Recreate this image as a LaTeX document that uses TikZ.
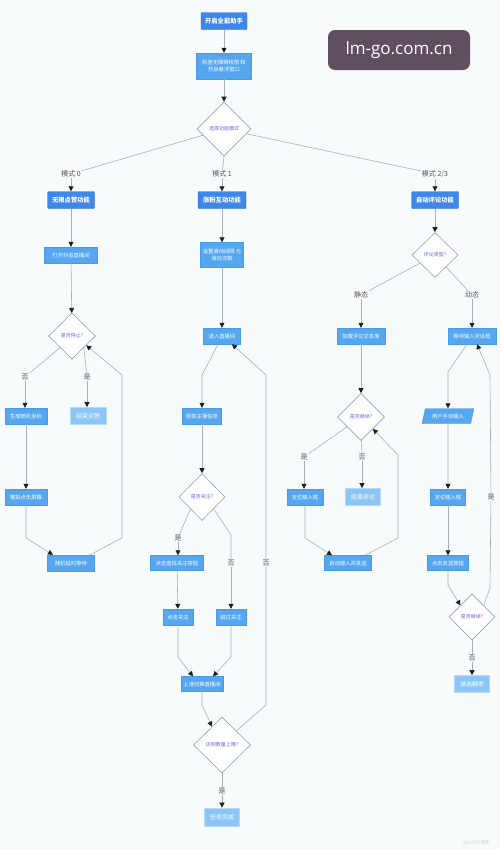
\documentclass[tikz,border=0pt]{standalone}
\usepackage{fontspec}
\setmainfont{Noto Sans CJK SC}
\newfontfamily\wmfont{Open Sans}
\usetikzlibrary{shapes.geometric,arrows.meta,calc}
\definecolor{bgc}{HTML}{F7FBFC}
\definecolor{tblue}{HTML}{3F88EA}
\definecolor{tbord}{HTML}{2F72D6}
\definecolor{pblue}{HTML}{56A7EF}
\definecolor{pbord}{HTML}{4A9AE5}
\definecolor{fblue}{HTML}{8DC6F6}
\definecolor{fbord}{HTML}{B5DAFA}
\definecolor{dbord}{HTML}{8FA6BE}
\definecolor{dtext}{HTML}{6B63D9}
\definecolor{linec}{HTML}{A3B1BF}
\definecolor{tipc}{HTML}{1E1E1E}
\definecolor{labc}{HTML}{555555}
\definecolor{wmc}{HTML}{5F5060}
\tikzset{
 tbox/.style={rectangle, inner sep=0pt, fill=tblue, draw=tbord, line width=0.4pt, text=white, font=\fontsize{6.3}{7}\selectfont\bfseries, minimum height=17pt, rounded corners=1pt},
 pbox/.style={rectangle, inner sep=0pt, fill=pblue, draw=pbord, line width=0.4pt, text=white, font=\fontsize{5.3}{7}\selectfont, minimum height=16pt, align=center},
 fbox/.style={rectangle, inner sep=0pt, fill=fblue, draw=fbord, line width=0.7pt, text=white, font=\fontsize{6}{7}\selectfont, minimum height=17pt},
 pgram/.style={trapezium, trapezium left angle=65, trapezium right angle=115, trapezium stretches=true, inner sep=0pt, fill=pblue, draw=pbord, line width=0.4pt, text=white, font=\fontsize{5.3}{7}\selectfont},
 dec/.style={diamond, aspect=1, inner sep=0pt, draw=dbord, fill=white, line width=0.6pt, text=dtext, font=\fontsize{5}{6}\selectfont},
 lab/.style={fill=bgc, inner sep=1pt, text=labc, font=\fontsize{7}{8}\selectfont},
 link/.style={draw=linec, line width=0.6pt},
 conn/.style={link, -{Triangle[length=5pt,width=5pt,color=tipc]}},
 wmark/.style={fill=wmc, rounded corners=7pt, minimum width=142pt, minimum height=40pt, text=white, font=\wmfont\fontsize{17}{20}\selectfont},
}
\begin{document}
\begin{tikzpicture}[x=1pt,y=-1pt]
\fill[bgc] (0,0) rectangle (500,849);
\useasboundingbox (0,0) rectangle (500,849);

% top
\node[tbox, minimum width=46pt] (start) at (224,21) {开启全能助手};
\node[pbox, minimum width=55pt, minimum height=26pt] (perm) at (224,66) {检查无障碍权限 和\\开启悬浮窗口};
\node[dec, minimum width=54pt, minimum height=54pt] (d1) at (224,129) {选择功能模式};
\node[lab] (lm0) at (71,174) {模式 0};
\node[lab] (lm1) at (222,174) {模式 1};
\node[lab] (lm23) at (435,174) {模式 2/3};
\node[tbox, minimum width=47pt] (m0) at (71,200) {无限点赞功能};
\node[tbox, minimum width=48pt] (m1) at (222,200) {涨粉互动功能};
\node[tbox, minimum width=47pt] (m23) at (435,200) {自动评论功能};

% column 0
\node[pbox, minimum width=53pt] (a1) at (71,255) {打开抖音直播间};
\node[dec, minimum width=47pt, minimum height=46pt] (ad) at (72,336) {是否停止?};
\node[lab] (lno0) at (25,377) {否};
\node[lab] (lyes0) at (87,377) {是};
\node[pbox, minimum width=42pt] (a2) at (26,416) {生成随机坐标};
\node[fbox, minimum width=36pt] (aend) at (88,416) {结束点赞};
\node[pbox, minimum width=42pt] (a3) at (26,497) {模拟点击屏幕};
\node[pbox, minimum width=47pt] (a4) at (71,563) {随机延时等待};

% column 1
\node[pbox, minimum width=43pt, minimum height=25pt] (b1) at (222,255) {设置滑动间隔 与\\滑动次数};
\node[pbox, minimum width=37pt] (b2) at (222,336) {进入直播间};
\node[pbox, minimum width=39pt] (b3) at (202,416) {获取主播信息};
\node[dec, minimum width=46pt, minimum height=47pt] (bd) at (202,497) {是否关注?};
\node[lab] (lyes1) at (178,538) {是};
\node[lab] (lno1) at (231,563) {否};
\node[pbox, minimum width=53pt, minimum height=15pt] (b4) at (177,563) {点击查找关注按钮};
\node[pbox, minimum width=30pt] (b5) at (178,617) {点击关注};
\node[pbox, minimum width=30pt] (b6) at (231,617) {跳过关注};
\node[pbox, minimum width=42pt, minimum height=15pt] (b7) at (202,684) {上滑切换直播间};
\node[dec, minimum width=57pt, minimum height=56pt] (bd2) at (222,745) {达到数量上限?};
\node[lab] (lyes2) at (222,791) {是};
\node[fbox, minimum width=35pt, minimum height=18pt] (b8) at (222,817) {任务完成};
\node[lab] (lno2) at (266,563) {否};

% column 2/3
\node[dec, minimum width=46pt, minimum height=45pt] (cd) at (435,255) {评论类型?};
\node[lab] (lst) at (361,295) {静态};
\node[lab] (ldy) at (472,295) {动态};
\node[pbox, minimum width=48pt] (c1) at (361,336) {加载评论文本库};
\node[dec, minimum width=47pt, minimum height=47pt] (cd2) at (361,417) {是否继续?};
\node[lab] (lyes3) at (304,457) {是};
\node[lab] (lno3) at (362,457) {否};
\node[pbox, minimum width=36pt] (c2) at (305,497) {定位输入框};
\node[fbox, minimum width=35pt] (c3) at (363,497) {结束评论};
\node[pbox, minimum width=47pt, minimum height=15pt] (c4) at (348,563) {自动输入并发送};

\node[pbox, minimum width=48pt] (e1) at (472,336) {等待输入对话框};
\node[pgram, minimum width=52pt, minimum height=15pt] (e2) at (448,416) {用户手动输入};
\node[pbox, minimum width=35pt] (e3) at (448,497) {定位输入框};
\node[pbox, minimum width=41pt, minimum height=15pt] (e4) at (448,563) {点击发送按钮};
\node[dec, minimum width=46pt, minimum height=46pt] (ed) at (472,617) {是否继续?};
\node[lab] (lno4) at (472,658) {否};
\node[lab] (lyes4) at (491,497) {是};
\node[fbox, minimum width=35pt] (e5) at (472,684) {退出脚本};

% watermark
\node[wmark] (wm) at (399,50) {lm-go.com.cn};
\node[text=black!18, font=\fontsize{4.5}{5}\selectfont] (wm2) at (476,843) {@51CTO博客};

% edges top
\draw[conn] (start) -- (perm);
\draw[conn] (perm) -- (d1);
\draw[link] (d1) -- (lm0);
\draw[link] (d1.south) -- (lm1);
\draw[link] (d1) -- (lm23);
\draw[conn] (lm0) -- (m0);
\draw[conn] (lm1) -- (m1);
\draw[conn] (lm23) -- (m23);

% column 0
\draw[conn] (m0) -- (a1);
\draw[conn] (a1) -- (ad);
\draw[link] (ad.south west) -- (lno0);
\draw[conn] (lno0) -- (lno0 |- a2.north);
\draw[link] (ad.south east) -- (lyes0);
\draw[conn] (lyes0) -- (lyes0 |- aend.north);
\draw[conn] (a2) -- (a3);
\draw[conn] (a3.south) -- (26,538) -- ([xshift=-18pt]a4.north);
\draw[conn] ([xshift=19pt]a4.north) -- (122,538) -- (122,375) -- ($(ad.east)!0.4!(ad.south)$);

% column 1
\draw[conn] (m1) -- (b1);
\draw[conn] (b1) -- (b2);
\draw[conn] ([xshift=-4pt]b2.south) -- (202,375) -- (b3);
\draw[conn] (b3) -- (bd);
\draw[link] (bd.south west) -- (lyes1);
\draw[conn] (lyes1) -- (lyes1 |- b4.north);
\draw[link] (bd.south east) -- (231,535) -- (lno1);
\draw[conn] (lno1) -- (b6);
\draw[conn] (b4) -- (b5);
\draw[conn] (b5) -- (178,657) -- ([xshift=-9pt]b7.north);
\draw[conn] (b6) -- (231,657) -- ([xshift=11pt]b7.north);
\draw[conn] (b7) -- (202,705) -- ($(bd2.north)!0.35!(bd2.west)$);
\draw[link] ($(bd2.north)!0.5!(bd2.east)$) -- (266,705) -- (lno2);
\draw[conn] (lno2) -- (266,375) -- ([xshift=10pt]b2.south);
\draw[link] (bd2) -- (lyes2);
\draw[conn] (lyes2) -- (b8);

% column 2/3
\draw[conn] (m23) -- (cd);
\draw[link] (cd) -- (lst);
\draw[link] (cd) -- (ldy);
\draw[conn] (lst) -- (c1);
\draw[conn] (ldy) -- (e1);
\draw[conn] (c1) -- (cd2);
\draw[link] (cd2) -- (lyes3);
\draw[conn] (lyes3) -- (lyes3 |- c2.north);
\draw[link] (cd2) -- (lno3);
\draw[conn] (lno3) -- (lno3 |- c3.north);
\draw[conn] (c2) -- (305,538) -- ([xshift=-16pt]c4.north);
\draw[conn] ([xshift=17pt]c4.north) -- (398,538) -- (398,455) -- ($(cd2.east)!0.5!(cd2.south)$);

\draw[conn] ([xshift=-5pt]e1.south) -- (448,372) -- (e2);
\draw[conn] (e2) -- (e3);
\draw[conn] (e3) -- (e4);
\draw[conn] (e4) -- (448,585) -- ($(ed.north)!0.5!(ed.west)$);
\draw[link] ($(ed.north)!0.5!(ed.east)$) -- (490,588) -- (lyes4);
\draw[conn] (lyes4) -- (490,375) -- ([xshift=5pt]e1.south);
\draw[link] (ed) -- (lno4);
\draw[conn] (lno4) -- (e5);
\end{tikzpicture}
\end{document}
